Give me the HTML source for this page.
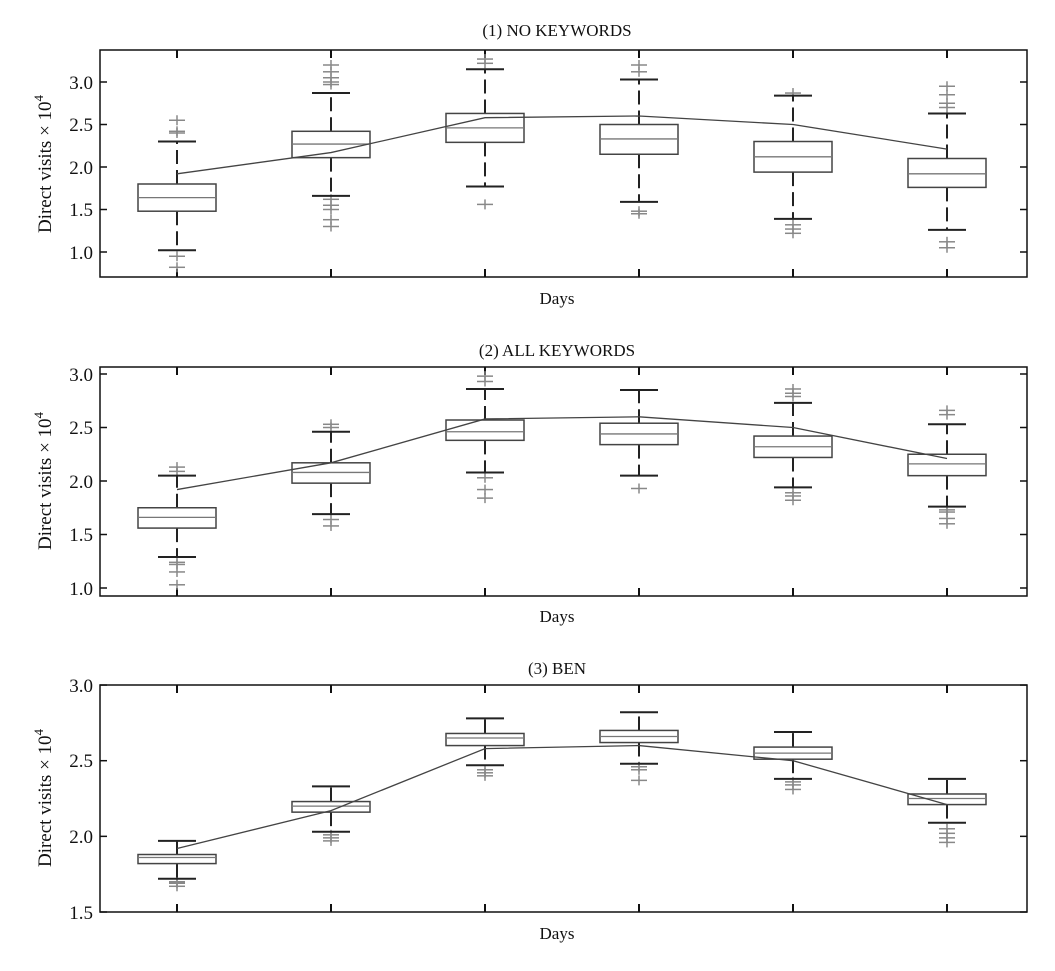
<!DOCTYPE html>
<html><head><meta charset="utf-8">
<style>
body{margin:0;background:#fff;}
svg{display:block;font-family:"Liberation Serif",serif;}
</style></head><body>
<svg id="s" width="1055" height="971" xmlns="http://www.w3.org/2000/svg">
<g font-size="19" fill="#111">
<text x="557" y="36" text-anchor="middle" font-size="17">(1) NO KEYWORDS</text>
<text x="557" y="304" text-anchor="middle" font-size="17">Days</text>
<text x="557" y="356" text-anchor="middle" font-size="17">(2) ALL KEYWORDS</text>
<text x="557" y="622" text-anchor="middle" font-size="17">Days</text>
<text x="557" y="674" text-anchor="middle" font-size="17">(3) BEN</text>
<text x="557" y="939" text-anchor="middle" font-size="17">Days</text>
<text transform="translate(51,164) rotate(-90)" text-anchor="middle" font-size="19">Direct visits × 10<tspan dy="-8" font-size="13">4</tspan></text>
<text transform="translate(51,481) rotate(-90)" text-anchor="middle" font-size="19">Direct visits × 10<tspan dy="-8" font-size="13">4</tspan></text>
<text transform="translate(51,798) rotate(-90)" text-anchor="middle" font-size="19">Direct visits × 10<tspan dy="-8" font-size="13">4</tspan></text>
<text x="93" y="89" text-anchor="end">3.0</text>
<text x="93" y="131" text-anchor="end">2.5</text>
<text x="93" y="174" text-anchor="end">2.0</text>
<text x="93" y="216" text-anchor="end">1.5</text>
<text x="93" y="259" text-anchor="end">1.0</text>
<text x="93" y="381" text-anchor="end">3.0</text>
<text x="93" y="434" text-anchor="end">2.5</text>
<text x="93" y="488" text-anchor="end">2.0</text>
<text x="93" y="541" text-anchor="end">1.5</text>
<text x="93" y="595" text-anchor="end">1.0</text>
<text x="93" y="692" text-anchor="end">3.0</text>
<text x="93" y="767" text-anchor="end">2.5</text>
<text x="93" y="843" text-anchor="end">2.0</text>
<text x="93" y="919" text-anchor="end">1.5</text>
</g>
</svg>
<script>
var s=document.getElementById('s'),NS='http://www.w3.org/2000/svg';
function el(t,a){var e=document.createElementNS(NS,t);for(var k in a)e.setAttribute(k,a[k]);s.appendChild(e);return e;}
function ln(x1,y1,x2,y2,c,w,d){var a={x1:x1,y1:y1,x2:x2,y2:y2,stroke:c,'stroke-width':w};if(d)a['stroke-dasharray']=d;el('line',a);}
var panels=[
{top:50,bot:277,y0:252,k:85,ticks:[1,1.5,2,2.5,3],data:[
[1.48,1.64,1.80,1.02,2.30,[2.55,2.42,2.40,0.95,0.82]],
[2.11,2.27,2.42,1.66,2.87,[3.2,3.12,3.05,3.0,2.97,1.62,1.55,1.5,1.38,1.3]],
[2.29,2.46,2.63,1.77,3.15,[3.27,3.22,1.56]],
[2.15,2.33,2.50,1.59,3.03,[3.2,3.12,1.48,1.45]],
[1.94,2.12,2.30,1.39,2.84,[2.87,1.32,1.27,1.22]],
[1.76,1.92,2.10,1.26,2.63,[2.95,2.85,2.75,2.7,1.12,1.05]]]},
{top:367,bot:596,y0:588,k:107,ticks:[1,1.5,2,2.5,3],data:[
[1.56,1.66,1.75,1.29,2.05,[2.13,2.09,1.24,1.22,1.15,1.03]],
[1.98,2.08,2.17,1.69,2.46,[2.53,2.5,1.64,1.58]],
[2.38,2.46,2.57,2.08,2.86,[2.98,2.93,2.03,1.92,1.84]],
[2.34,2.44,2.54,2.05,2.85,[1.93]],
[2.22,2.32,2.42,1.94,2.73,[2.86,2.82,2.79,1.89,1.86,1.82]],
[2.05,2.16,2.25,1.76,2.53,[2.66,2.62,1.73,1.71,1.65,1.60]]]},
{top:685,bot:912,y0:912,k:151.3,base:1.5,ticks:[1.5,2,2.5,3],data:[
[1.82,1.86,1.88,1.72,1.97,[1.70,1.69,1.67]],
[2.16,2.20,2.23,2.03,2.33,[2.01,1.99,1.97]],
[2.60,2.65,2.68,2.47,2.78,[2.44,2.42,2.40]],
[2.62,2.66,2.70,2.48,2.82,[2.46,2.44,2.37]],
[2.51,2.55,2.59,2.38,2.69,[2.36,2.34,2.31]],
[2.21,2.25,2.28,2.09,2.38,[2.05,2.02,1.99,1.96]]]}];
var mean=[1.92,2.17,2.58,2.6,2.5,2.21];
panels.forEach(function(p){
 var b=p.base||1;function Y(v){return p.y0-(v-b)*p.k;}
 el('rect',{x:100,y:p.top,width:927,height:p.bot-p.top,fill:'none',stroke:'#111','stroke-width':1.5});
 p.ticks.forEach(function(t){var y=Y(t);ln(100,y,107,y,'#111',1.5);ln(1020,y,1027,y,'#111',1.5);});
 for(var i=0;i<6;i++){var x=177+154*i;ln(x,p.top,x,p.top+8,'#111',2);ln(x,p.bot,x,p.bot-8,'#111',2);}
 p.data.forEach(function(d,i){var x=177+154*i;
  d[5].forEach(function(o){var y=Y(o);ln(x-8,y,x+8,y,'#888',1.5);ln(x,y-5,x,y+5,'#888',1.5);});
  ln(x,Y(d[2]),x,Y(d[4]),'#222',2,'14,6');ln(x,Y(d[0]),x,Y(d[3]),'#222',2,'14,6');
  ln(x-19,Y(d[4]),x+19,Y(d[4]),'#222',2);ln(x-19,Y(d[3]),x+19,Y(d[3]),'#222',2);
  el('rect',{x:x-39,y:Y(d[2]),width:78,height:Y(d[0])-Y(d[2]),fill:'#fff',stroke:'#444','stroke-width':1.5});
  ln(x-39,Y(d[1]),x+39,Y(d[1]),'#777',1.3);
 });
 var pts=mean.map(function(m,i){return (177+154*i)+','+Y(m);}).join(' ');
 el('polyline',{points:pts,fill:'none',stroke:'#444','stroke-width':1.3});
});
</script>
</body></html>
